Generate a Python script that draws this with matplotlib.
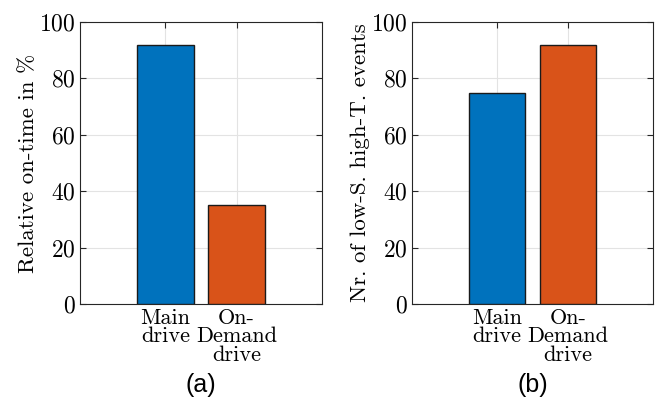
import matplotlib
matplotlib.use('Agg')
import matplotlib.pyplot as plt

categories = ['Main\ndrive', 'On-\nDemand\ndrive']
on_time = [92, 35]
events = [75, 92]
bar_colors = ['#0072BD', '#D95319']
ylabels = ['Relative on-time in %', 'Nr. of low-S. high-T. events']
panel_tags = ['(a)', '(b)']

plt.rcParams['font.family'] = 'cmr10'
plt.rcParams['mathtext.fontset'] = 'cm'
plt.rcParams['axes.formatter.use_mathtext'] = True

fig = plt.figure(figsize=(6.57, 3.99), dpi=100)
W, H = 657, 399
boxes = [(80, 22, 242, 282), (412, 22, 241, 282)]

for (x0, y0, w, h), vals, ylab, tag in zip(boxes, [on_time, events], ylabels, panel_tags):
    ax = fig.add_axes([x0 / W, 1 - (y0 + h) / H, w / W, h / H])
    pos = list(range(1, len(categories) + 1))
    ax.bar(pos, vals, width=0.8, color=bar_colors, edgecolor='#1a1a1a',
           linewidth=1.0, zorder=3)
    ax.set_xlim(-0.2, 3.2)
    ax.set_ylim(0, 100)
    ax.set_yticks(range(0, 101, 20))
    ax.set_xticks(pos)
    ax.set_xticklabels(categories, fontsize=16, linespacing=0.93)
    ax.tick_params(axis='y', labelsize=17, pad=3)
    ax.tick_params(axis='x', pad=3)
    ax.tick_params(direction='in', top=True, right=True, length=4,
                   color='#262626', width=0.8)
    ax.grid(True, color='#e3e3e3', linewidth=0.8, zorder=0)
    ax.set_axisbelow(True)
    for s in ax.spines.values():
        s.set_color('#262626')
        s.set_linewidth(0.8)
    ax.set_ylabel(ylab, fontsize=16.5, labelpad=1)
    fig.text((x0 + w / 2) / W, 1 - 385 / H, tag, ha='center', va='center',
             fontsize=18, family='Liberation Sans')

plt.savefig('out.png', dpi=100)
